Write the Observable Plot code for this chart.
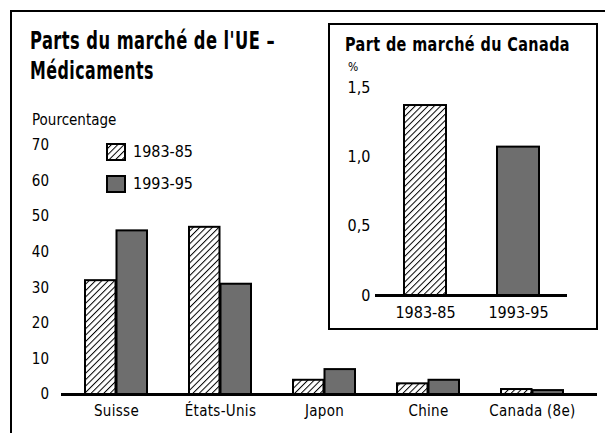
<!DOCTYPE html>
<html><head><meta charset="utf-8">
<script src="https://cdn.jsdelivr.net/npm/d3@7"></script>
<script src="https://cdn.jsdelivr.net/npm/@observablehq/plot@0.6"></script>
<style>
body{margin:0;background:#fff;}
#wrap{position:relative;width:605px;height:433px;overflow:hidden;background:#fff;color:#000;
  font-family:"DejaVu Sans Condensed","Liberation Sans Narrow",sans-serif;}
#frame{position:absolute;left:10px;top:10px;width:640px;height:460px;border-left:2.5px solid #000;border-top:2.5px solid #000;}
#main{position:absolute;left:0;top:0;}
.fit{position:absolute;white-space:nowrap;transform-origin:0 50%;display:inline-block;}
.t1{font-size:24px;font-weight:bold;line-height:28px;letter-spacing:0.6px;}
#ylabel{font-size:15px;line-height:18px;}
.leg{position:absolute;left:106px;width:20px;height:18px;}
.legt{font-size:16px;line-height:18px;}
#inset{position:absolute;left:328px;top:23px;width:266px;height:303px;border:2px solid #000;background:#fff;}
#itit{font-size:20px;font-weight:bold;line-height:24px;letter-spacing:0.5px;}
#pct{position:absolute;left:18px;top:35px;font-size:12px;line-height:14px;}
#iplot{position:absolute;left:0;top:0;}
</style></head>
<body>
<div id="wrap">
  <svg width="0" height="0" style="position:absolute">
    <defs>
      <pattern id="hatch" patternUnits="userSpaceOnUse" width="4.5" height="4.5" patternTransform="rotate(45)">
        <rect width="4.5" height="4.5" fill="#fff"></rect>
        <line x1="0.5" y1="0" x2="0.5" y2="4.5" stroke="#000" stroke-width="1"></line>
      </pattern>
    </defs>
  </svg>
  <div id="frame"></div>
  <div id="main"></div>
  <span class="fit t1" data-w="245" style="left:30px;top:27px">Parts du marché de l'UE –</span>
  <span class="fit t1" data-w="124" style="left:30px;top:57px">Médicaments</span>
  <span class="fit" id="ylabel" data-w="86" style="left:32px;top:111px">Pourcentage</span>
  <svg class="leg" style="top:143px"><rect x="1" y="1" width="18" height="16" fill="url(#hatch)" stroke="#000" stroke-width="2"></rect></svg>
  <svg class="leg" style="top:175px"><rect x="1" y="1" width="18" height="16" fill="#6e6e6e" stroke="#000" stroke-width="2"></rect></svg>
  <span class="fit legt" id="leg1" data-w="60" style="left:133px;top:143px"></span>
  <span class="fit legt" id="leg2" data-w="60" style="left:133px;top:175px"></span>
  <div id="inset">
    <div id="iplot"></div>
    <span class="fit" id="itit" data-w="225" style="left:15px;top:7px">Part de marché du Canada</span>
    <div id="pct">%</div>
  </div>
</div>
<script>
// ---- data ----
const categories = ["Suisse", "États-Unis", "Japon", "Chine", "Canada (8e)"];
const periods = ["1983-85", "1993-95"];
const share8385 = [32, 47, 4, 3, 1.4];
const share9395 = [46, 31, 7, 4, 1.1];
const yTicks = [0, 10, 20, 30, 40, 50, 60, 70];
const canadaShare = [1.37, 1.07];
const canadaTicks = [0, 0.5, 1, 1.5];
const canadaTickLabels = ["0", "0,5", "1,0", "1,5"];

document.getElementById("leg1").textContent = periods[0];
document.getElementById("leg2").textContent = periods[1];

const font = "'DejaVu Sans Condensed','Liberation Sans Narrow',sans-serif";
const rows8385 = categories.map((c, i) => ({cat: c, v: share8385[i]}));
const rows9395 = categories.map((c, i) => ({cat: c, v: share9395[i]}));

const main = Plot.plot({
  width: 605, height: 433,
  marginLeft: 61, marginRight: 18, marginTop: 145, marginBottom: 39,
  style: {fontFamily: font, fontSize: "15px", letterSpacing: "0.3px", background: "transparent", color: "#000"},
  x: {domain: categories, paddingInner: 0.4, paddingOuter: 0.205, tickSize: 0, tickPadding: 11, label: null},
  y: {domain: [0, 70], ticks: yTicks, tickSize: 0, tickPadding: 12, label: null},
  marks: [
    Plot.barY(rows8385, {x: "cat", y: "v", fill: "url(#hatch)", stroke: "#000", strokeWidth: 2, insetRight: 31.5}),
    Plot.barY(rows9395, {x: "cat", y: "v", fill: "#6e6e6e", stroke: "#000", strokeWidth: 2, insetLeft: 31.5}),
    Plot.ruleY([0], {stroke: "#000", strokeWidth: 3, insetRight: -10})
  ]
});
document.getElementById("main").appendChild(main);

const canadaRows = periods.map((p, i) => ({period: p, v: canadaShare[i]}));
const inset = Plot.plot({
  width: 266, height: 303,
  marginLeft: 45, marginRight: 29, marginTop: 62, marginBottom: 33,
  style: {fontFamily: font, fontSize: "16px", background: "transparent", color: "#000"},
  x: {domain: periods, paddingInner: 0.553, paddingOuter: 0.3, tickSize: 0, tickPadding: 11, label: null},
  y: {domain: [0, 1.5], ticks: canadaTicks, tickFormat: d => canadaTickLabels[canadaTicks.indexOf(d)], tickSize: 0, tickPadding: 5, label: null},
  marks: [
    Plot.barY([canadaRows[0]], {x: "period", y: "v", fill: "url(#hatch)", stroke: "#000", strokeWidth: 2}),
    Plot.barY([canadaRows[1]], {x: "period", y: "v", fill: "#6e6e6e", stroke: "#000", strokeWidth: 2}),
    Plot.ruleY([0], {stroke: "#000", strokeWidth: 3})
  ]
});
document.getElementById("iplot").appendChild(inset);

// compress condensed-style texts to the reference widths
document.querySelectorAll(".fit").forEach(el => {
  const w = el.getBoundingClientRect().width;
  const target = +el.dataset.w;
  if (w > 0 && target) el.style.transform = `scaleX(${Math.min(1, target / w)})`;
});
</script>
</body></html>
